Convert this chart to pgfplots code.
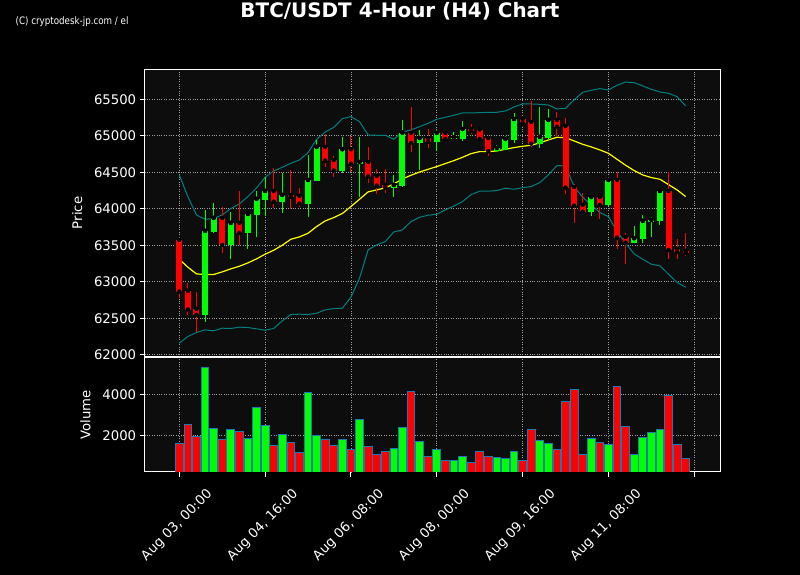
\documentclass[border=0pt]{standalone}
\usepackage{fontspec}
\setmainfont{DejaVu Sans}
\newfontfamily\condfont[FakeStretch=0.85]{DejaVu Sans}
\usepackage{pgfplots}
\pgfplotsset{compat=1.18}
\usepackage{pgfplotstable}
\definecolor{cgreen}{RGB}{0,255,0}
\definecolor{cred}{RGB}{255,0,0}
\definecolor{cyel}{RGB}{255,255,0}
\definecolor{cband}{RGB}{0,128,128}
\definecolor{axbg}{RGB}{13,13,13}
\definecolor{gridc}{RGB}{160,160,160}
\definecolor{cedge}{RGB}{31,119,180}

\pgfplotstableread{
x O H L C V
3 62546 63989 62445 63696 5318
4 63683 64075 63664 63874 2341
6 63505 63961 63317 63806 2293
8 63669 63947 63445 63929 1853
9 63915 64240 63610 64135 3366
10 64125 64431 63902 64244 2487
12 64098 64495 63947 64189 2048
15 64071 64737 63883 64395 4098
16 64386 64943 64386 64847 1999
19 64523 64988 64495 64815 1804
21 64619 64988 64167 64641 2780
25 64290 64463 64167 64326 1365
26 64308 65212 64299 65043 2390
28 64902 65075 64527 64970 1707
30 64915 65080 64788 65039 1316
32 64961 65048 64943 64975 779
33 64957 65198 64925 65093 975
37 64788 64870 64778 64833 926
38 64810 65002 64801 64957 877
39 64947 65308 64906 65230 1219
42 64893 65390 64829 64984 1755
43 64975 65372 64943 65217 1609
48 63961 64180 63897 64162 1853
50 64052 64418 64020 64395 1560
53 63536 63769 63536 63596 1072
54 63587 63915 63527 63833 1902
55 63824 63893 63610 63847 2146
56 63833 64258 63774 64244 2293
}\up

\pgfplotstableread{
x O H L C V
0 63573 63580 62774 62865 1609
1 62874 62989 62546 62619 2536
2 62628 62856 62304 62546 1950
5 63874 64025 63390 63505 1804
7 63806 64240 63500 63669 2195
11 64244 64555 64011 64098 1511
13 64189 64532 63993 64167 1658
14 64176 64281 64025 64071 1170
17 64847 65025 64578 64660 1804
18 64669 64728 64441 64523 1511
20 64815 64998 64500 64619 1316
22 64641 64842 64358 64441 1463
23 64450 64541 64199 64317 1072
24 64326 64541 64221 64290 1219
27 65039 65390 64783 64902 4147
29 64970 65093 64838 64915 975
31 65039 65071 64943 64957 779
34 65093 65157 65025 65066 682
35 65084 65112 64938 64957 1219
36 64970 65002 64728 64788 975
40 65230 65262 65171 65176 779
41 65189 65473 64842 64893 2293
44 65217 65331 64988 65125 1316
45 65135 65240 64199 64290 3658
46 64299 64340 63801 64043 4244
47 64052 64212 63925 63961 1072
49 64162 64171 63856 64052 1658
51 64395 64509 63445 63605 4390
52 63614 63664 63244 63536 2439
57 64244 64500 63308 63436 3951
58 63450 63582 63308 63413 1560
59 63422 63664 63358 63395 877
}\down

\pgfplotstableread{
x ma bu bl
0 63308 64463 62158
1 63199 64167 62249
2 63107 63915 62304
3 63098 63856 62340
4 63098 63865 62327
5 63135 63915 62363
6 63176 64002 62359
7 63212 64066 62377
8 63258 64167 62372
9 63313 64285 62354
10 63377 64431 62336
11 63431 64518 62359
12 63500 64568 62463
13 63582 64623 62550
14 63614 64669 62555
15 63664 64769 62550
16 63756 64952 62568
17 63833 65052 62614
18 63879 65115 62632
19 63935 65235 62637
20 64030 65262 62788
21 64130 65194 63048
22 64231 65011 63436
23 64258 65007 63505
24 64285 65007 63550
25 64340 64952 63683
26 64409 65052 63710
27 64459 65080 63824
28 64504 65125 63883
29 64541 65171 63911
30 64578 65226 63925
31 64619 65253 63984
32 64660 65281 64039
33 64705 65313 64098
34 64756 65313 64194
35 64783 65317 64240
36 64783 65322 64240
37 64792 65322 64249
38 64815 65340 64281
39 64838 65395 64267
40 64856 65436 64288
41 64870 65436 64304
42 64902 65431 64358
43 64943 65422 64463
44 64979 65367 64591
45 64975 65377 64587
46 64929 65491 64304
47 64883 65596 64157
48 64847 65623 64052
49 64806 65646 63947
50 64760 65628 63893
51 64678 65692 63687
52 64596 65737 63527
53 64523 65728 63381
54 64463 65683 63308
55 64427 65637 63240
56 64404 65600 63217
57 64331 65582 63103
58 64258 65536 62989
59 64167 65409 62925
}\ind

\pgfplotsset{
  darkax/.style={
    scale only axis,
    axis background/.style={fill=axbg},
    axis line style={white, line width=1bp},
    tick style={white, line width=1bp},
    major tick length=5bp,
    tick align=outside,
    tick pos=left,
    grid=major,
    grid style={gridc, dotted, line width=0.8bp},
    ticklabel style={text=white, font=\fontsize{13.3}{15}\selectfont},
    label style={text=white, font=\fontsize{13.3}{15}\selectfont},
    ylabel shift=5bp,
    xmin=-4.03, xmax=63.0,
    xtick={0,10,...,60},
    scaled ticks=false,
    /pgf/number format/assume math mode=true,
    /pgf/number format/1000 sep={},
  },
  wick/.style={only marks, mark=none, forget plot,
    error bars/.cd, y dir=both, y explicit, error mark=none,
    error bar style={line width=1bp, color=#1}},
  body/.style={only marks, mark=none, forget plot,
    error bars/.cd, y dir=both, y explicit, error mark=none,
    error bar style={line width=6bp, color=#1}},
}

\begin{document}
\begin{tikzpicture}
\fill[black] (0,0) rectangle (800bp,575bp);
\node[text=white, font=\fontsize{20}{22}\selectfont\bfseries] at (400bp,564bp) {BTC/USDT 4-Hour (H4) Chart};
\node[anchor=west, text=white, font=\condfont\fontsize{10.3}{11}\selectfont, inner sep=0pt] at (15.5bp,553.5bp) {(C) cryptodesk-jp.com / el};

\begin{axis}[darkax,
  at={(144.7bp,218.5bp)}, anchor=south west,
  width=575.3bp, height=287.2bp,
  ymin=61975, ymax=65911,
  ytick={62000,62500,...,65500},
  xticklabels={},
  ylabel={Price},
]
\addplot[cband, line width=1bp] table[x=x, y=bu] \ind;
\addplot[cband, line width=1bp] table[x=x, y=bl] \ind;
\addplot[cyel, line width=1.2bp] table[x=x, y=ma] \ind;
\addplot[wick=cgreen] table[x=x, y=C, y error plus expr=\thisrow{H}-\thisrow{C}, y error minus expr=\thisrow{C}-\thisrow{L}] \up;
\addplot[wick=cred] table[x=x, y=C, y error plus expr=\thisrow{H}-\thisrow{C}, y error minus expr=\thisrow{C}-\thisrow{L}] \down;
\addplot[body=cgreen] table[x=x, y=C, y error plus expr=0, y error minus expr=\thisrow{C}-\thisrow{O}] \up;
\addplot[body=cred] table[x=x, y=O, y error plus expr=0, y error minus expr=\thisrow{O}-\thisrow{C}] \down;
\end{axis}

\begin{axis}[darkax,
  at={(144.7bp,103bp)}, anchor=south west,
  width=575.3bp, height=114.7bp,
  ymin=210, ymax=5807,
  ytick={2000,4000},
  xticklabels={{Aug 03, 00:00},{Aug 04, 16:00},{Aug 06, 08:00},{Aug 08, 00:00},{Aug 09, 16:00},{Aug 11, 08:00},{}},
  xticklabel style={rotate=45, anchor=center, xshift=-35.9bp, yshift=-32.7bp},
  ylabel={Volume},
]
\addplot[ybar, bar width=0.9, bar shift=0pt, fill=cgreen, draw=cedge, line width=0.9bp] table[x=x, y=V] \up;
\addplot[ybar, bar width=0.9, bar shift=0pt, fill=cred, draw=cedge, line width=0.9bp] table[x=x, y=V] \down;
\end{axis}
\pgfresetboundingbox
\useasboundingbox (0,0) rectangle (800bp,575bp);
\end{tikzpicture}
\end{document}
